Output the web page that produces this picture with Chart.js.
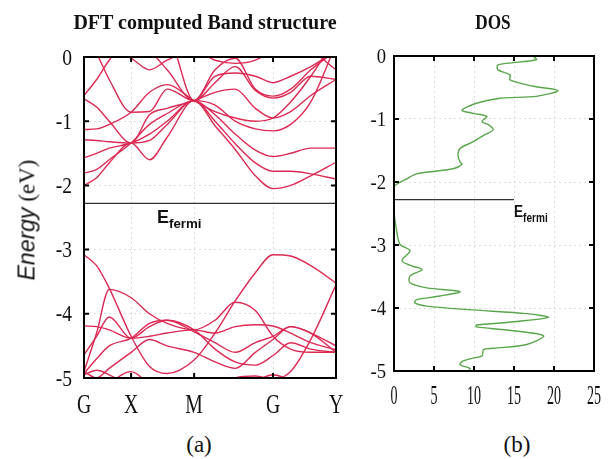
<!DOCTYPE html>
<html>
<head>
<meta charset="utf-8">
<script src="https://cdn.jsdelivr.net/npm/chart.js@4.4.1/dist/chart.umd.min.js"></script>
<style>
  body { margin: 0; background: #fff; width: 609px; height: 459px; position: relative; overflow: hidden; font-family: "Liberation Serif", serif; color: #111; }
  canvas { position: absolute; top: 0; }
  #band { left: 0; }
  #dos { left: 345px; }
  .lbl { position: absolute; white-space: nowrap; line-height: 1; }
  .c { transform: translate(-50%, -50%); }
  .ef { font-family: "Liberation Sans", sans-serif; font-weight: bold; transform-origin: left top; }
  .ef span { font-size: 0.74em; position: relative; top: 5px; }
</style>
</head>
<body>
<canvas id="band" width="345" height="420"></canvas>
<canvas id="dos" width="264" height="420"></canvas>

<div class="lbl c" style="left:205px;top:22px;font-size:20px;font-weight:bold;">DFT computed Band structure</div>
<div class="lbl" style="left:493px;top:22px;font-size:21px;font-weight:bold;font-family:'Liberation Serif',serif;transform:translate(-50%,-50%) scaleX(0.82);">DOS</div>
<div class="lbl" style="left:27px;top:220px;font-size:23px;transform:translate(-50%,-50%) rotate(-90deg);"><i style="font-family:'Liberation Sans',sans-serif;">Energy</i> (eV)</div>
<div class="lbl c" style="left:199px;top:444px;font-size:23px;">(a)</div>
<div class="lbl c" style="left:517px;top:444px;font-size:23px;">(b)</div>
<div class="lbl ef" style="left:157px;top:208px;font-size:18px;">E<span>fermi</span></div>
<div class="lbl ef" style="left:514px;top:203px;font-size:17px;transform:scaleX(0.8);">E<span>fermi</span></div>

<script>
// k-path: high symmetry points and where they sit on the path
const kLabels = ["G", "X", "M", "G", "Y"];
const kTicks = [0, 0.187, 0.437, 0.75, 1];
const kPoints = [0, 0.05, 0.1, 0.187, 0.26, 0.33, 0.437, 0.52, 0.6, 0.68, 0.75, 0.82, 0.9, 1.0];

// upper bands (eV), one value per kPoint
const u1 = [-2.0, -1.88, -1.65, -1.34, -1.6, -1.25, -0.68, -1.07, -1.44, -1.85, -2.05, -2.0, -1.85, -1.64];
const u2 = [-1.81, -1.75, -1.6, -1.34, -1.05, -0.88, -0.68, -1.0, -1.35, -1.65, -1.78, -1.78, -1.82, -1.9];
const u3 = [-1.57, -1.5, -1.42, -1.34, -1.2, -1.0, -0.68, -0.9, -1.2, -1.45, -1.55, -1.5, -1.42, -1.42];
const u4 = [-1.29, -1.3, -1.32, -1.34, -1.3, -1.05, -0.68, -0.75, -1.0, -1.12, -1.15, -1.05, -0.7, 0.2];
const u5 = [-1.13, -1.12, -1.05, -0.86, -0.55, -0.43, -0.68, -0.85, -0.95, -1.0, -0.95, -0.7, -0.3, 0.3];
const u6 = [-0.65, -0.78, -1.0, -1.34, -0.9, -0.8, -0.68, -0.55, -0.5, -0.8, -0.95, -0.85, -0.6, -0.35];
const u7 = [-0.6, -0.35, -0.05, 0.3, 0.1, -0.2, -0.68, -0.4, -0.15, -0.52, -0.64, -0.55, -0.3, -0.35];
const u8 = [0.3, 0.05, -0.35, -0.86, -0.85, -0.5, -0.68, -0.3, -0.25, -0.3, -0.4, -0.3, -0.15, 0.1];
const u9 = [0.4, 0.3, 0.1, -0.02, -0.2, -0.05, 0.1, -0.05, -0.1, -0.05, 0.1, 0.2, 0.1, -0.2];
const u10 = [0.5, 0.5, 0.4, 0.2, 0.0, 0.3, -0.68, -0.2, -0.02, -0.5, -0.61, -0.5, -0.2, 0.1];

// lower bands (eV)
const l1 = [-3.08, -3.25, -3.6, -4.35, -4.82, -4.93, -4.72, -4.3, -3.8, -3.36, -3.08, -3.1, -3.25, -3.52];
const l2 = [-4.9, -4.3, -3.62, -3.75, -4.0, -4.15, -4.25, -4.1, -3.82, -3.95, -4.35, -4.55, -4.6, -4.6];
const l3 = [-4.19, -4.2, -4.25, -4.38, -4.35, -4.3, -4.25, -4.3, -4.2, -4.17, -4.19, -4.3, -4.45, -4.56];
const l4 = [-4.64, -4.35, -4.05, -4.38, -4.2, -4.1, -4.28, -4.45, -4.6, -4.45, -4.35, -4.2, -4.3, -4.5];
const l5 = [-4.93, -4.7, -4.5, -4.38, -4.15, -4.1, -4.25, -4.55, -4.75, -4.8, -4.65, -4.45, -4.55, -4.6];
const l6 = [-4.9, -5.0, -4.85, -4.6, -4.4, -4.5, -4.6, -4.75, -4.85, -4.6, -4.4, -4.2, -4.3, -4.6];
const l7 = [-5.5, -5.3, -5.1, -4.9, -5.1, -5.3, -5.4, -5.2, -5.0, -4.97, -5.02, -4.9, -4.4, -3.55];
const l8 = [-4.95, -4.88, -4.95, -5.15, -5.4, -5.6, -5.6, -5.4, -5.2, -5.05, -4.95, -5.05, -5.3, -5.5];

const fermiLevel = -2.28;

// DOS curve (energy in eV, states)
const dosEnergy = [0, -0.06, -0.14, -0.22, -0.3, -0.38, -0.48, -0.55, -0.64, -0.67, -0.75, -0.86, -0.91, -0.96, -1.04, -1.09, -1.17, -1.26, -1.36, -1.47, -1.58, -1.68, -1.72, -1.79, -1.87, -1.95, -2.08, -2.45, -2.75, -2.99, -3.09, -3.25, -3.33, -3.39, -3.49, -3.6, -3.68, -3.74, -3.81, -3.87, -3.92, -3.97, -4.03, -4.09, -4.15, -4.23, -4.27, -4.3, -4.35, -4.44, -4.58, -4.64, -4.66, -4.76, -4.8, -4.85, -4.9, -4.96, -5.01];
const dosValue = [17.4, 17.8, 13.0, 13.0, 14.5, 14.5, 17.4, 20.5, 17.8, 13.25, 10.3, 8.5, 9.9, 11.6, 11.0, 11.8, 12.4, 11.2, 9.9, 8.25, 8.0, 8.25, 8.5, 7.4, 2.8, 1.6, 0, 0, 0.3, 0.75, 2.0, 1.0, 2.2, 3.5, 2.0, 2.0, 4.1, 8.25, 5.75, 2.8, 2.6, 4.1, 9.9, 16.6, 19.3, 14.1, 10.3, 10.3, 14.1, 18.7, 16.6, 12.4, 11.2, 11.0, 9.7, 8.5, 8.25, 9.5, 9.2];
const dosTicks = [0, 5, 10, 15, 20, 25];

const bandColor = "#dc2a55";
const dosColor = "#5aa64c";

// frame with inward ticks + squeezed serif tick labels
const frameTicks = {
  id: "frameTicks",
  afterDraw(chart, args, o) {
    const { ctx, chartArea: a } = chart;
    const xs = chart.scales.x, ys = chart.scales.y;
    ctx.save();
    ctx.strokeStyle = "#000";
    ctx.lineWidth = 2;
    ctx.strokeRect(a.left, a.top, a.right - a.left, a.bottom - a.top);
    ctx.beginPath();
    xs.ticks.forEach(t => {
      if (t.value <= xs.min || t.value >= xs.max) return;
      const px = xs.getPixelForValue(t.value);
      ctx.moveTo(px, a.bottom); ctx.lineTo(px, a.bottom - 5);
      ctx.moveTo(px, a.top); ctx.lineTo(px, a.top + 5);
    });
    ys.ticks.forEach(t => {
      if (t.value <= ys.min || t.value >= ys.max) return;
      const py = ys.getPixelForValue(t.value);
      ctx.moveTo(a.left, py); ctx.lineTo(a.left + 5, py);
      ctx.moveTo(a.right, py); ctx.lineTo(a.right - 5, py);
    });
    ctx.stroke();

    ctx.fillStyle = "#111";
    ctx.textBaseline = "alphabetic";
    ctx.textAlign = "center";
    ctx.font = o.xFont + "px 'Liberation Serif'";
    xs.ticks.forEach((t, i) => {
      const px = xs.getPixelForValue(t.value);
      const label = o.xLabels ? o.xLabels[i] : String(t.value);
      ctx.save();
      ctx.translate(px, a.bottom + o.xOffset + o.xFont * 0.33);
      ctx.scale(o.xSqueeze, 1);
      ctx.fillText(label, 0, 0);
      ctx.restore();
    });
    ctx.textAlign = "right";
    ctx.font = o.yFont + "px 'Liberation Serif'";
    ys.ticks.forEach(t => {
      const py = ys.getPixelForValue(t.value);
      ctx.save();
      ctx.translate(a.left - o.yGap, py + o.yFont * 0.33);
      ctx.scale(o.ySqueeze, 1);
      ctx.fillText(String(t.value), 0, 0);
      ctx.restore();
    });
    ctx.restore();
  }
};

const gridStyle = { color: "#dcdcdc", lineWidth: 1, drawTicks: false };
const borderStyle = { display: false, dash: [2, 3] };

function bandSet(values) {
  return {
    data: kPoints.map((k, i) => ({ x: k, y: values[i] })),
    showLine: true,
    borderColor: bandColor,
    borderWidth: 1.4,
    pointRadius: 0,
    cubicInterpolationMode: "monotone"
  };
}

const bands = [u1, u2, u3, u4, u5, u6, u7, u8, u9, u10, l1, l2, l3, l4, l5, l6, l7, l8];
const bandDatasets = bands.map(bandSet);
bandDatasets.push({
  data: [{ x: 0, y: fermiLevel }, { x: 1, y: fermiLevel }],
  showLine: true, borderColor: "#333", borderWidth: 1.4, pointRadius: 0
});

new Chart(document.getElementById("band"), {
  type: "scatter",
  data: { datasets: bandDatasets },
  options: {
    responsive: false,
    animation: false,
    layout: { padding: { top: 57, right: 9, left: 0, bottom: 0 } },
    plugins: {
      legend: { display: false },
      tooltip: { enabled: false },
      frameTicks: { xFont: 27, xSqueeze: 0.73, xOffset: 26, yFont: 23, ySqueeze: 0.85, yGap: 12, xLabels: kLabels }
    },
    scales: {
      x: {
        type: "linear", min: 0, max: 1,
        afterBuildTicks(s) { s.ticks = kTicks.map(v => ({ value: v })); },
        afterFit(s) { s.height = 42; },
        ticks: { display: false },
        grid: gridStyle, border: borderStyle
      },
      y: {
        min: -5, max: 0,
        afterFit(s) { s.width = 84; },
        ticks: { display: false, stepSize: 1 },
        grid: gridStyle, border: borderStyle
      }
    }
  },
  plugins: [frameTicks]
});

new Chart(document.getElementById("dos"), {
  type: "scatter",
  data: {
    datasets: [
      {
        data: dosEnergy.map((e, i) => ({ x: dosValue[i], y: e })),
        showLine: true, borderColor: dosColor, borderWidth: 1.4, pointRadius: 0, tension: 0.3
      },
      {
        data: [{ x: 0, y: fermiLevel }, { x: 15, y: fermiLevel }],
        showLine: true, borderColor: "#333", borderWidth: 1.4, pointRadius: 0
      }
    ]
  },
  options: {
    responsive: false,
    animation: false,
    layout: { padding: { top: 56, right: 15, left: 0, bottom: 0 } },
    plugins: {
      legend: { display: false },
      tooltip: { enabled: false },
      frameTicks: { xFont: 28, xSqueeze: 0.5, xOffset: 24, yFont: 22, ySqueeze: 0.85, yGap: 8 }
    },
    scales: {
      x: {
        type: "linear", min: 0, max: 25,
        afterBuildTicks(s) { s.ticks = dosTicks.map(v => ({ value: v })); },
        afterFit(s) { s.height = 49; },
        ticks: { display: false },
        grid: gridStyle, border: borderStyle
      },
      y: {
        min: -5, max: 0,
        afterFit(s) { s.width = 49; },
        ticks: { display: false, stepSize: 1 },
        grid: gridStyle, border: borderStyle
      }
    }
  },
  plugins: [frameTicks]
});
</script>
</body>
</html>
